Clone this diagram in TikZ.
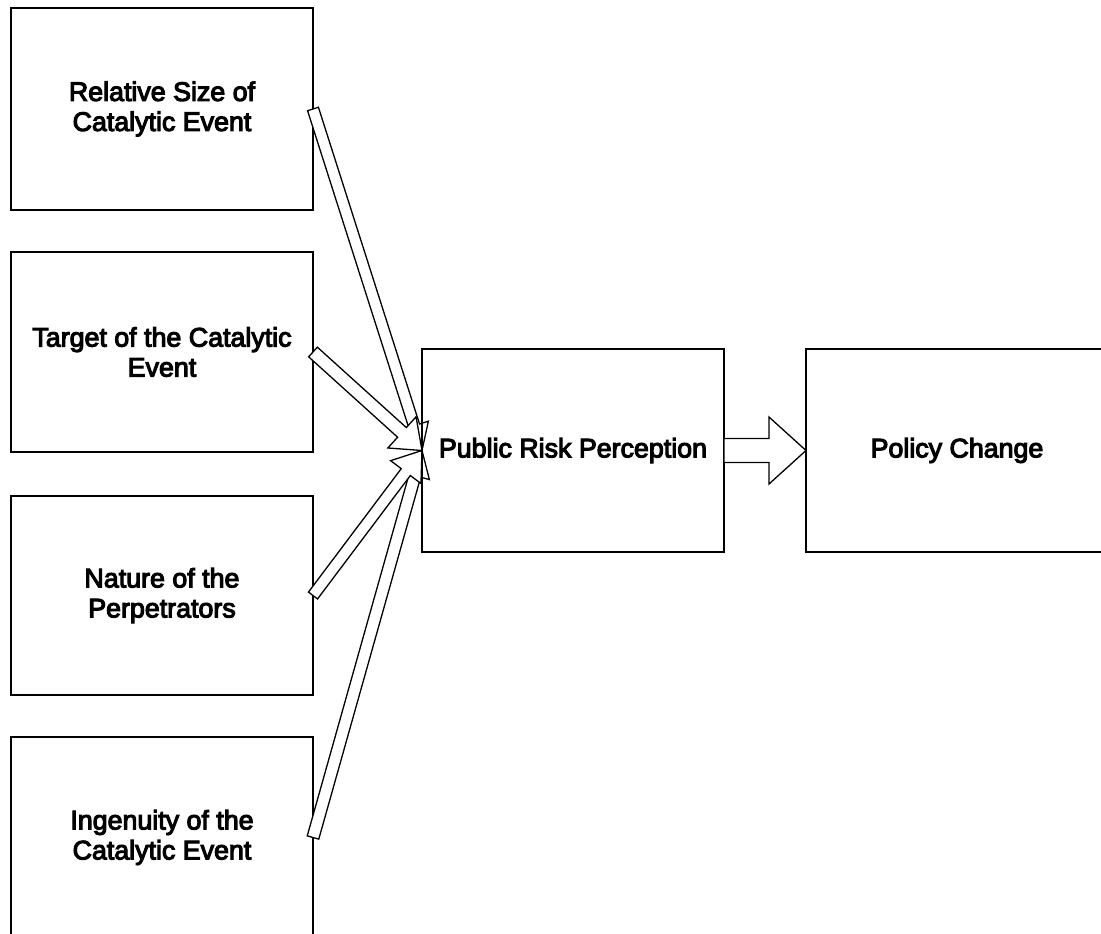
\documentclass[tikz,border=0pt]{standalone}
\usepackage{fontspec}
\newfontfamily\lblfont{Liberation Sans}[FakeBold=4]
\usetikzlibrary{calc}

% hollow block arrow: tail, tip, half shaft width, half head width, head length
\newcommand{\blockarr}[5]{%
  \path ($(#2)!#5!(#1)$) coordinate (hb);
  \draw[blockarrow] ($(#1)!#3!90:(#2)$) -- ($(hb)!#3!90:(#2)$)
    -- ($(hb)!#4!90:(#2)$) -- (#2) -- ($(hb)!#4!-90:(#2)$)
    -- ($(hb)!#3!-90:(#2)$) -- ($(#1)!#3!-90:(#2)$) -- cycle;}

\begin{document}
\begin{tikzpicture}[x=1pt,y=-1pt,
  box/.style={draw=black, line width=1.8pt, fill=white, inner sep=0pt,
    outer sep=0pt, minimum width=302pt, align=center,
    font=\lblfont\fontsize{26.8}{30}\selectfont},
  blockarrow/.style={draw=black, line width=1.3pt, fill=white, line join=miter}]
\useasboundingbox (0,0) rectangle (1101,934);

% factor boxes
\node[box, minimum height=202pt] (b1) at (162,109) {Relative Size of\\Catalytic Event};
\node[box, minimum height=200pt] (b2) at (162,352) {Target of the Catalytic\\Event};
\node[box, minimum height=199pt] (b3) at (162,595.5) {Nature of the\\Perpetrators};
\node[box, minimum height=201pt] (b4) at (162,837.5) {Ingenuity of the\\Catalytic Event};

% perception and outcome
\node[box, minimum height=203pt] (pc) at (573,450.5) {Public Risk Perception};
\node[box, minimum height=203pt] (pol) at (957,450.5) {Policy Change};

% converging arrows
\blockarr{b4.east}{pc.west}{6pt}{15pt}{26pt}
\blockarr{b3.east}{pc.west}{5.7pt}{19pt}{27pt}
\blockarr{b1.east}{pc.west}{5.7pt}{15pt}{26pt}
\blockarr{b2.east}{pc.west}{6.5pt}{21pt}{27pt}

% border of the central box stays visible over the arrow tips
\draw[line width=1.8pt] (pc.north west) rectangle (pc.south east);

% outcome arrow
\blockarr{pc.east}{pol.west}{12pt}{33.5pt}{37pt}
\end{tikzpicture}
\end{document}
